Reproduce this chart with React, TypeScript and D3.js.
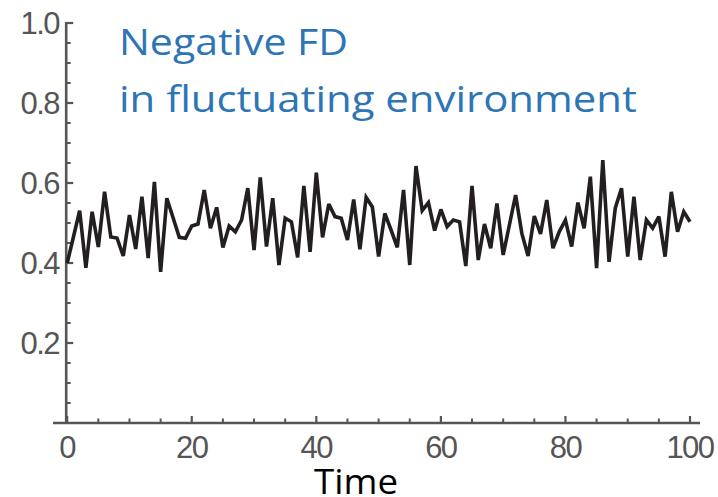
import * as d3 from "d3";

// values, t = 0..100
const values = [
  0.4, 0.465, 0.531, 0.388, 0.528, 0.44, 0.578, 0.465, 0.4625, 0.4175,
  0.52, 0.435, 0.566, 0.4125, 0.603, 0.378, 0.562, 0.513, 0.464, 0.462,
  0.4925, 0.4975, 0.5825, 0.487, 0.539, 0.439, 0.4925, 0.478, 0.5075, 0.587,
  0.4325, 0.614, 0.441, 0.562, 0.395, 0.512, 0.503, 0.414, 0.5925, 0.428,
  0.626, 0.464, 0.5475, 0.516, 0.512, 0.4575, 0.559, 0.434, 0.564, 0.54,
  0.416, 0.524, 0.4825, 0.439, 0.5825, 0.395, 0.6425, 0.531, 0.551, 0.481,
  0.534, 0.491, 0.5075, 0.503, 0.3925, 0.5925, 0.4075, 0.4975, 0.437, 0.549,
  0.42, 0.495, 0.57, 0.474, 0.4175, 0.5175, 0.4725, 0.5575, 0.437, 0.478,
  0.5075, 0.441, 0.551, 0.487, 0.616, 0.387, 0.6575, 0.403, 0.537, 0.587,
  0.416, 0.566, 0.4075, 0.5075, 0.487, 0.516, 0.416, 0.578, 0.478, 0.528,
  0.503,
];

const xMajor = [0, 20, 40, 60, 80, 100];
const yMajor = [0.2, 0.4, 0.6, 0.8, 1.0];
const titleLines = ["Negative FD", "in fluctuating environment"];
const xLabel = "Time";

const W = 718;
const H = 497;
const axisColor = "#555555";

export default function App() {
  const x = d3.scaleLinear().domain([0, 100]).range([67.2, 690]);
  const y = d3.scaleLinear().domain([0, 1]).range([423, 23]);

  const line = d3
    .line<number>()
    .x((_, i) => x(i))
    .y((d) => y(d));

  const xMinor = d3.range(0, 101, 5).filter((t) => !xMajor.includes(t));
  const yMinor = d3
    .range(0.05, 1.0001, 0.05)
    .map((v) => +v.toFixed(2))
    .filter((v) => !yMajor.some((m) => Math.abs(m - v) < 1e-6));

  const x0 = x(0) - 1;
  const yBase = y(0);

  return (
    <div style={{ position: "absolute", left: 0, top: 0 }}>
      <svg width={W} height={H} viewBox={`0 0 ${W} ${H}`} style={{ display: "block", background: "#fff" }}>
        {/* axes */}
        <line x1={x0} x2={x0} y1={y(1) - 1} y2={yBase} stroke={axisColor} strokeWidth={2.6} />
        <line x1={53} x2={700} y1={yBase} y2={yBase} stroke={axisColor} strokeWidth={2.6} />

        {yMajor.map((v) => (
          <line key={`ym${v}`} x1={x0} x2={x0 + 7} y1={y(v)} y2={y(v)} stroke={axisColor} strokeWidth={2.2} />
        ))}
        {yMinor.map((v) => (
          <line key={`yn${v}`} x1={x0} x2={x0 + 4.5} y1={y(v)} y2={y(v)} stroke={axisColor} strokeWidth={2} />
        ))}
        {xMajor.map((t) => (
          <line key={`xm${t}`} x1={x(t)} x2={x(t)} y1={yBase} y2={yBase - 7} stroke={axisColor} strokeWidth={2.2} />
        ))}
        {xMinor.map((t) => (
          <line key={`xn${t}`} x1={x(t)} x2={x(t)} y1={yBase} y2={yBase - 4.5} stroke={axisColor} strokeWidth={2} />
        ))}

        {/* tick labels */}
        <g fontFamily="'Liberation Sans', Arial, sans-serif" fontSize={31} fill={axisColor} letterSpacing={-1.5}>
          {yMajor.map((v) => (
            <text key={`yl${v}`} x={59} y={y(v) + 11} textAnchor="end">
              {d3.format(".1f")(v)}
            </text>
          ))}
          {xMajor.map((t) => (
            <text key={`xl${t}`} x={x(t)} y={yBase + 35} textAnchor="middle">
              {t}
            </text>
          ))}
        </g>

        {/* series */}
        <path
          d={line(values) ?? ""}
          fill="none"
          stroke="#231f20"
          strokeWidth={3.6}
          strokeLinejoin="miter"
          strokeMiterlimit={3}
        />

        {/* title */}
        <g fontFamily="'Open Sans', 'Noto Sans', sans-serif" fontSize={37} fill="#2e75b6">
          <text x={119} y={55} textLength={229} lengthAdjust="spacingAndGlyphs">
            {titleLines[0]}
          </text>
          <text x={119} y={112} textLength={518} lengthAdjust="spacingAndGlyphs">
            {titleLines[1]}
          </text>
        </g>

        <text
          x={314}
          y={494}
          fontFamily="'Open Sans', 'Noto Sans', sans-serif"
          fontSize={35}
          fill="#000"
          textLength={84}
          lengthAdjust="spacingAndGlyphs"
        >
          {xLabel}
        </text>
      </svg>
    </div>
  );
}
